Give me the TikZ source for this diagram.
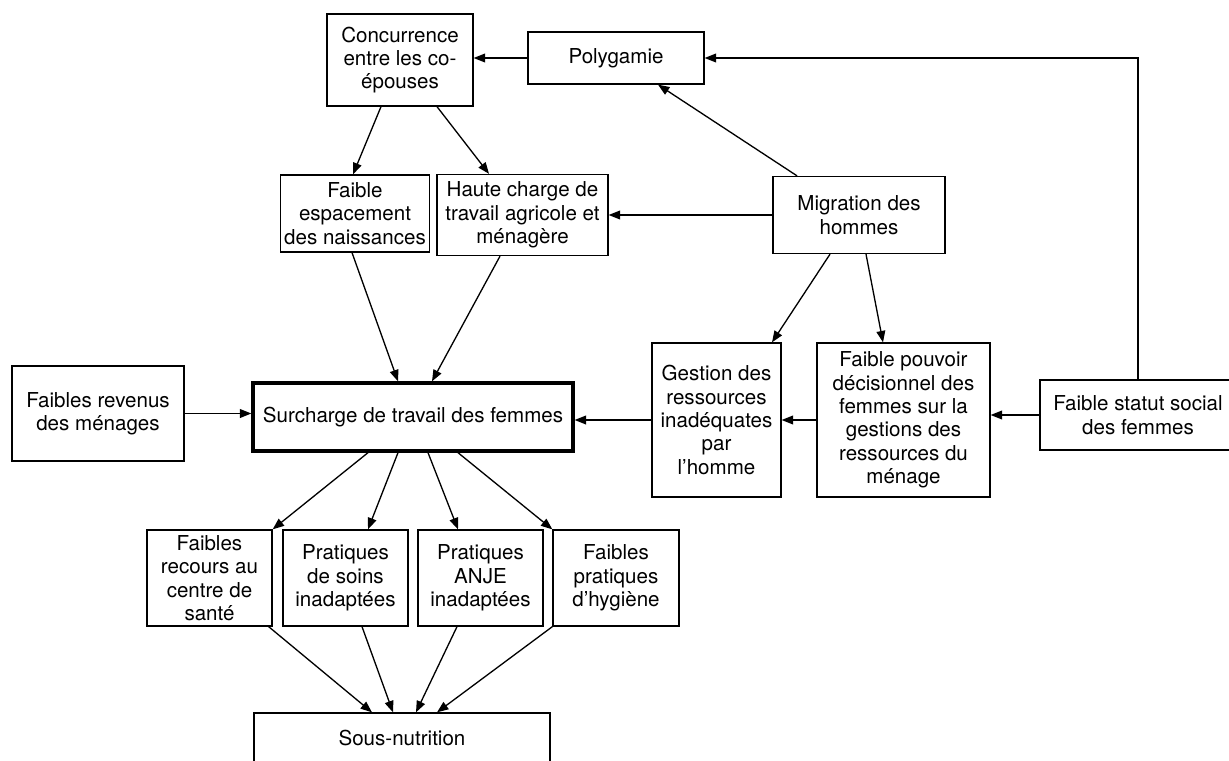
\documentclass[tikz,border=0pt]{standalone}
\usepackage{fontspec}
\setmainfont{TeX Gyre Heros}
\usetikzlibrary{arrows.meta}

\begin{document}
\begin{tikzpicture}[x=0.02cm,y=-0.02cm, line width=0.75pt,
    box/.style={draw, align=center, inner sep=2pt, font=\fontsize{11.7}{13.3}\selectfont},
    mainbox/.style={box, line width=1.9pt},
    >={Triangle[length=6.5pt,width=5pt]}]
    \useasboundingbox (0,0) rectangle (1229,760);
    \node[box, minimum width=2.92cm, minimum height=1.84cm] (conc) at (400,60) {Concurrence\\entre les co-\\épouses};
    \node[box, minimum width=3.52cm, minimum height=1.04cm] (poly) at (616,58) {Polygamie};
    \node[box, minimum width=2.52cm, minimum height=1.54cm] (espa) at (355,213.5) {Faible\\espacement\\des naissances};
    \node[box, minimum width=3.42cm, minimum height=1.62cm] (haute) at (522.5,215) {Haute charge de\\travail agricole et\\ménagère};
    \node[box, minimum width=3.44cm, minimum height=1.54cm] (migr) at (859,215) {Migration des\\hommes};
    \node[box, minimum width=3.44cm, minimum height=1.9cm] (rev) at (98,413.5) {Faibles revenus\\des ménages};
    \node[mainbox, minimum width=6.4cm, minimum height=1.36cm] (surch) at (413,417) {Surcharge de travail des femmes};
    \node[box, minimum width=2.58cm, minimum height=3.08cm] (gest) at (716.5,420) {Gestion des\\ressources\\inadéquates\\par\\l’homme};
    \node[box, minimum width=3.46cm, minimum height=3.08cm] (pouv) at (903.5,420) {Faible pouvoir\\décisionnel des\\femmes sur la\\gestions des\\ressources du\\ménage};
    \node[box, minimum width=3.92cm, minimum height=1.4cm] (stat) at (1138,415) {Faible statut social\\des femmes};
    \node[box, minimum width=2.5cm, minimum height=1.92cm] (recours) at (209.5,578) {Faibles\\recours au\\centre de\\santé};
    \node[box, minimum width=2.5cm, minimum height=1.92cm] (soins) at (345.5,578) {Pratiques\\de soins\\inadaptées};
    \node[box, minimum width=2.5cm, minimum height=1.92cm] (anje) at (480.5,578) {Pratiques\\ANJE\\inadaptées};
    \node[box, minimum width=2.52cm, minimum height=1.92cm] (hyg) at (616,578) {Faibles\\pratiques\\d’hygiène};
    \node[box, minimum width=5.92cm, minimum height=1.0cm] (sous) at (402,738) {Sous-nutrition};
    % upper part
    \draw[->] (poly.west) -- (poly.west -| conc.east);
    \draw[->] (stat.north) |- (poly.east);
    \draw[->] ([xshift=-0.38cm]conc.south) -- ([xshift=-0.04cm]espa.north);
    \draw[->] ([xshift=0.74cm]conc.south) -- ([xshift=-0.67cm]haute.north);
    \draw[->] ([xshift=-1.24cm]migr.north) -- ([xshift=0.84cm]poly.south);
    \draw[->] (migr.west) -- (haute.east);
    \draw[->] ([xshift=-0.58cm]migr.south) -- ([xshift=1.11cm]gest.north);
    \draw[->] ([xshift=0.14cm]migr.south) -- ([xshift=-0.41cm]pouv.north);
    % middle row
    \draw[->] (stat.west) -- (stat.west -| pouv.east);
    \draw[->] (pouv.west) -- (gest.east);
    \draw[->] (gest.west) -- (gest.west -| surch.east);
    \draw[->] (rev.east) -- (rev.east -| surch.west);
    \draw[->] ([xshift=-0.06cm]espa.south) -- ([xshift=-0.3cm]surch.north);
    \draw[->] ([xshift=-0.45cm]haute.south) -- ([xshift=0.38cm]surch.north);
    % lower part
    \draw[->] ([xshift=-0.9cm]surch.south) -- (recours.north east);
    \draw[->] ([xshift=-0.3cm]surch.south) -- ([xshift=0.45cm]soins.north);
    \draw[->] ([xshift=0.3cm]surch.south) -- ([xshift=-0.45cm]anje.north);
    \draw[->] ([xshift=0.9cm]surch.south) -- (hyg.north west);
    \draw[->] ([xshift=-0.08cm]recours.south east) -- ([xshift=-0.6cm]sous.north);
    \draw[->] ([xshift=0.33cm]soins.south) -- ([xshift=-0.18cm]sous.north);
    \draw[->] ([xshift=-0.47cm]anje.south) -- ([xshift=0.28cm]sous.north);
    \draw[->] (hyg.south west) -- ([xshift=0.7cm]sous.north);
\end{tikzpicture}
\end{document}
